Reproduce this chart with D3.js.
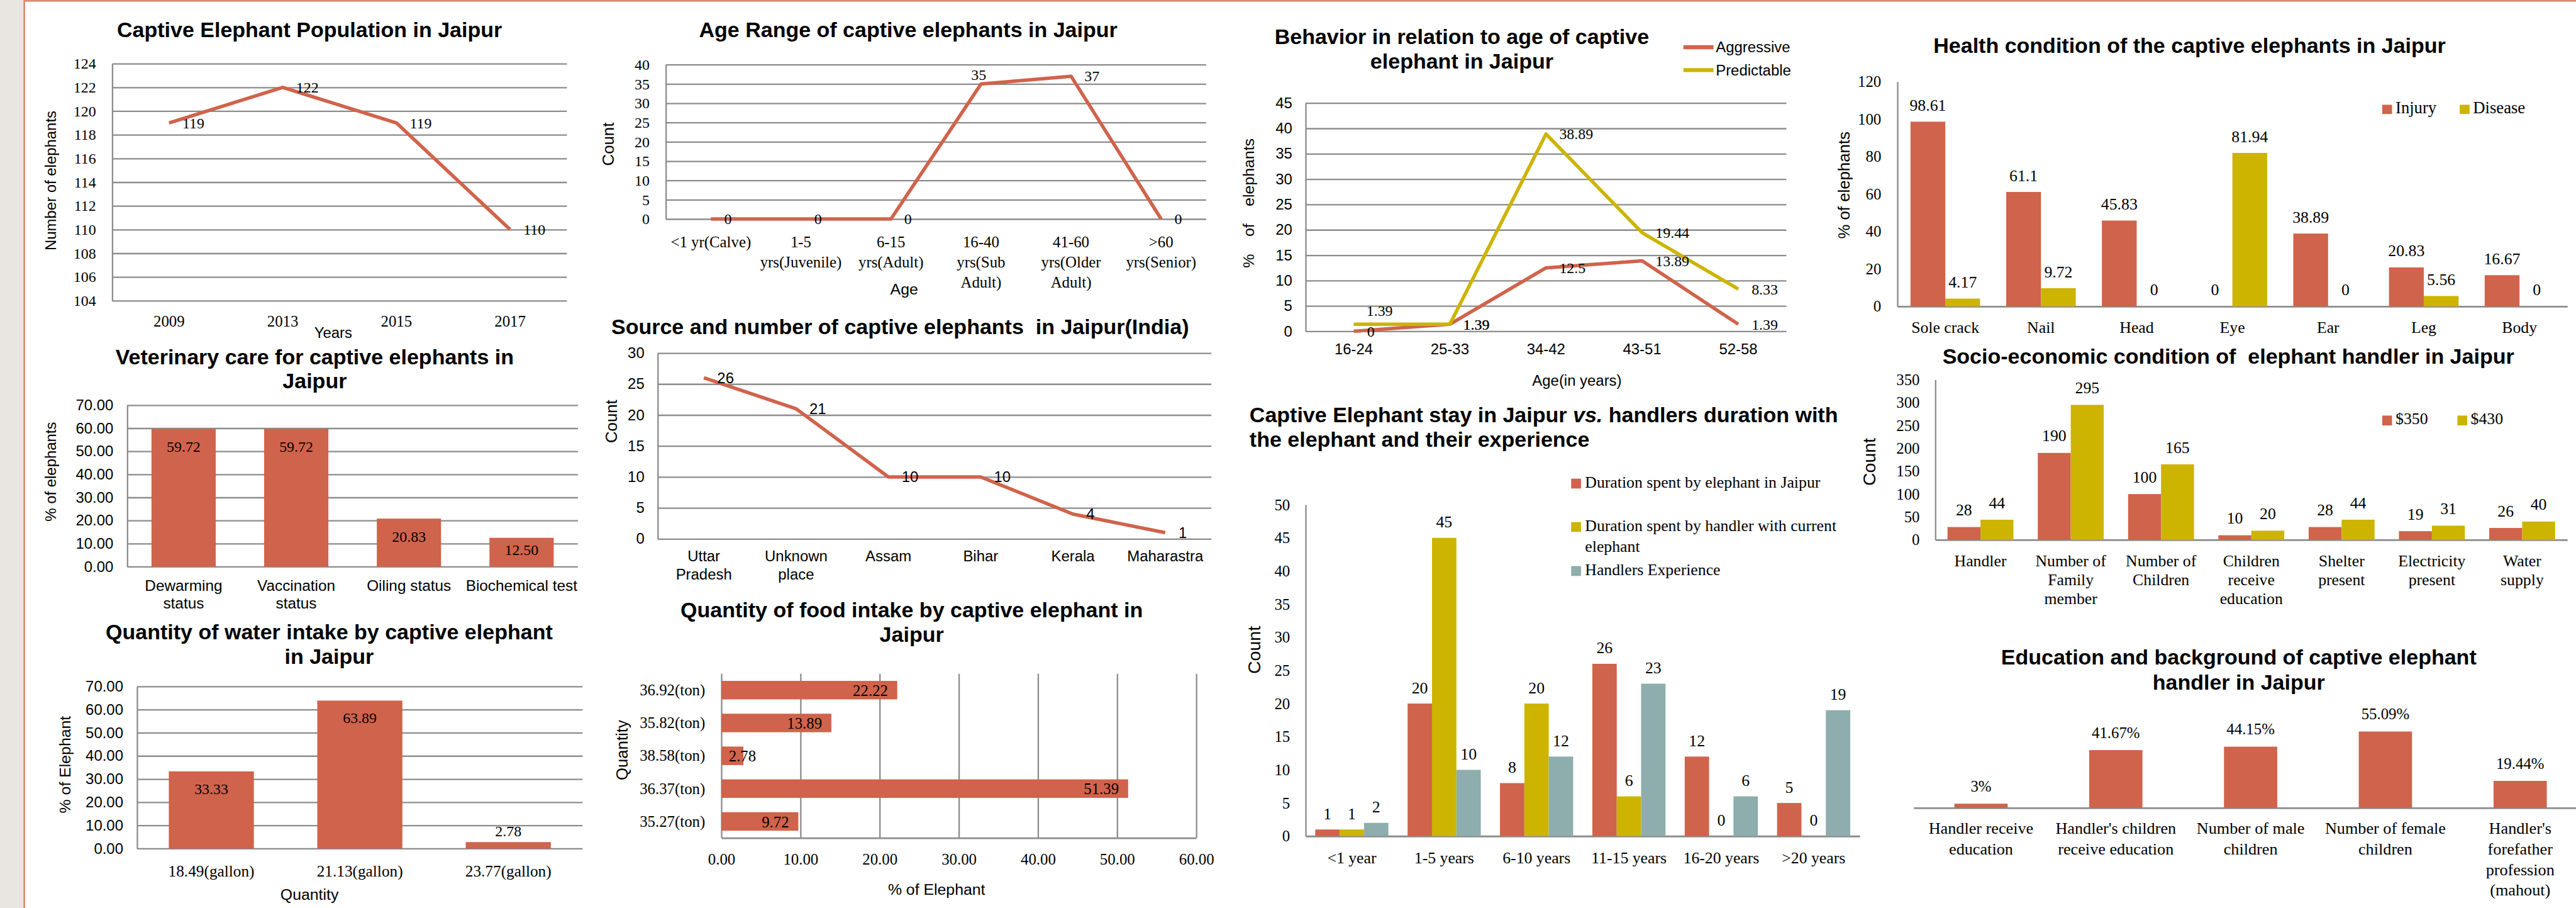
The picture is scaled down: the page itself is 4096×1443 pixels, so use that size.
<!DOCTYPE html>
<html><head><meta charset="utf-8">
<script src="https://cdn.jsdelivr.net/npm/d3@7"></script>
<style>html,body{margin:0;padding:0;background:#fff;overflow:hidden}</style>
</head><body>
<svg id="c" width="4096" height="1443"></svg>
<script>
// ---------------- DATA ----------------
const popYears = ["2009", "2013", "2015", "2017"];
const popValues = [119, 122, 119, 110];
const popTicks = [104, 106, 108, 110, 112, 114, 116, 118, 120, 122, 124];

const ageCats = ["<1 yr(Calve)", "1-5\nyrs(Juvenile)", "6-15\nyrs(Adult)", "16-40\nyrs(Sub\nAdult)", "41-60\nyrs(Older\nAdult)", ">60\nyrs(Senior)"];
const ageValues = [0, 0, 0, 35, 37, 0];
const ageTicks = [0, 5, 10, 15, 20, 25, 30, 35, 40];

const vetCats = ["Dewarming\nstatus", "Vaccination\nstatus", "Oiling status", "Biochemical test"];
const vetValues = [59.72, 59.72, 20.83, 12.50];
const vetTicks = [0, 10, 20, 30, 40, 50, 60, 70];

const srcCats = ["Uttar\nPradesh", "Unknown\nplace", "Assam", "Bihar", "Kerala", "Maharastra"];
const srcValues = [26, 21, 10, 10, 4, 1];
const srcTicks = [0, 5, 10, 15, 20, 25, 30];

const waterCats = ["18.49(gallon)", "21.13(gallon)", "23.77(gallon)"];
const waterValues = [33.33, 63.89, 2.78];
const waterTicks = [0, 10, 20, 30, 40, 50, 60, 70];

const foodCats = ["36.92(ton)", "35.82(ton)", "38.58(ton)", "36.37(ton)", "35.27(ton)"];
const foodValues = [22.22, 13.89, 2.78, 51.39, 9.72];
const foodTicks = [0, 10, 20, 30, 40, 50, 60];

const behCats = ["16-24", "25-33", "34-42", "43-51", "52-58"];
const behAggressive = [0, 1.39, 12.5, 13.89, 1.39];
const behPredictable = [1.39, 1.39, 38.89, 19.44, 8.33];
const behTicks = [0, 5, 10, 15, 20, 25, 30, 35, 40, 45];
const behSeries = ["Aggressive", "Predictable"];

const stayCats = ["<1 year", "1-5 years", "6-10 years", "11-15 years", "16-20 years", ">20 years"];
const stayElephant = [1, 20, 8, 26, 12, 5];
const stayHandler = [1, 45, 20, 6, 0, 0];
const stayExperience = [2, 10, 12, 23, 6, 19];
const stayTicks = [0, 5, 10, 15, 20, 25, 30, 35, 40, 45, 50];
const staySeries = ["Duration spent by elephant in Jaipur", "Duration spent by handler with current\nelephant", "Handlers Experience"];

const healthCats = ["Sole crack", "Nail", "Head", "Eye", "Ear", "Leg", "Body"];
const healthInjury = [98.61, 61.1, 45.83, 0, 38.89, 20.83, 16.67];
const healthDisease = [4.17, 9.72, 0, 81.94, 0, 5.56, 0];
const healthTicks = [0, 20, 40, 60, 80, 100, 120];
const healthSeries = ["Injury", "Disease"];

const socioCats = ["Handler", "Number of\nFamily\nmember", "Number of\nChildren", "Children\nreceive\neducation", "Shelter\npresent", "Electricity\npresent", "Water\nsupply"];
const socio350 = [28, 190, 100, 10, 28, 19, 26];
const socio430 = [44, 295, 165, 20, 44, 31, 40];
const socioTicks = [0, 50, 100, 150, 200, 250, 300, 350];
const socioSeries = ["$350", "$430"];

const eduCats = ["Handler receive\neducation", "Handler's children\nreceive education", "Number of male\nchildren", "Number of female\nchildren", "Handler's\nforefather\nprofession\n(mahout)"];
const eduValues = [3, 41.67, 44.15, 55.09, 19.44];

// ---------------- STYLE ----------------
const S = 4096 / 4453;
const SANS = "'Liberation Sans', Arial, Helvetica, sans-serif";
const SERIF = "'Liberation Serif', 'Times New Roman', Times, serif";
const RED = "#d0634b", YEL = "#ccb400", TEAL = "#8eadad", GRID = "#8c8c8c";

const svg = d3.select("#c");
const root = svg.append("g").attr("transform", `scale(${S})`);

// frame
root.append("rect").attr("x", 0).attr("y", 0).attr("width", 4453).attr("height", 1569).attr("fill", "#fff");
root.append("rect").attr("x", 0).attr("y", 0).attr("width", 42).attr("height", 1569).attr("fill", "#e9e5e1");
root.append("line").attr("x1", 42).attr("x2", 42).attr("y1", 0).attr("y2", 1569).attr("stroke", "#dc8b77").attr("stroke-width", 3);
root.append("line").attr("x1", 42).attr("x2", 4453).attr("y1", 1.5).attr("y2", 1.5).attr("stroke", "#dc8b77").attr("stroke-width", 3);

// ---------------- HELPERS ----------------
function txt(g, x, y, s, o = {}) {
  const t = g.append("text").attr("x", x).attr("y", y)
    .attr("font-family", o.f || SANS).attr("font-size", o.s || 26)
    .attr("font-weight", o.w || "normal").attr("text-anchor", o.a || "middle")
    .attr("fill", o.c || "#000");
  if (o.pre) t.style("white-space", "pre");
  t.text(s);
  return t;
}
function mtxt(g, x, y, str, lh, o) {
  str.split("\n").forEach((l, i) => txt(g, x, y + i * lh, l, o));
}
function vtxt(g, x, y, s, o = {}) {
  const t = g.append("text").attr("transform", `translate(${x},${y}) rotate(-90)`)
    .attr("font-family", o.f || SANS).attr("font-size", o.s || 27)
    .attr("text-anchor", "middle").attr("fill", "#000");
  if (o.pre) t.style("white-space", "pre");
  t.text(s);
}
function title(g, cx, y, lines, lh = 43) {
  lines.forEach((l, i) => txt(g, cx, y + i * lh, l, { s: 37, w: "bold", pre: true }));
}
function yAxis(g, y, x0, width, ticks, fmt, font, size, pad, grid) {
  const ax = d3.axisLeft(y).tickValues(ticks).tickFormat(fmt).tickSizeOuter(0)
    .tickSizeInner(grid ? -width : 0).tickPadding(pad);
  const a = g.append("g").attr("transform", `translate(${x0},0)`).call(ax);
  a.selectAll("line").attr("stroke", GRID).attr("stroke-width", 2.5);
  a.select(".domain").attr("stroke", GRID).attr("stroke-width", 2.5);
  a.selectAll("text").attr("font-family", font).attr("font-size", size).attr("fill", "#000");
  return a;
}
function xLine(g, x, y0) {
  const a = g.append("g").attr("transform", `translate(0,${y0})`)
    .call(d3.axisBottom(x).tickSize(0).tickFormat(""));
  a.select(".domain").attr("stroke", GRID).attr("stroke-width", 3);
}

// ---------------- PANEL 1: Population ----------------
{
  const g = root.append("g");
  title(g, 535, 64, ["Captive Elephant Population in Jaipur"]);
  const x = d3.scalePoint().domain(popYears).range([194, 980]).padding(0.5);
  const y = d3.scaleLinear().domain([104, 124]).range([519.5, 110]);
  yAxis(g, y, 194, 786, popTicks, d3.format("d"), SERIF, 26, 28, true);
  const data = popYears.map((c, i) => ({ c, v: popValues[i] }));
  g.append("path").datum(data).attr("fill", "none").attr("stroke", RED).attr("stroke-width", 6)
    .attr("stroke-linejoin", "round")
    .attr("d", d3.line().x(d => x(d.c)).y(d => y(d.v)));
  data.forEach(d => txt(g, x(d.c) + 23, y(d.v) + 9, d.v, { f: SERIF, s: 26, a: "start" }));
  popYears.forEach(c => txt(g, x(c), 564, c, { f: SERIF, s: 27 }));
  txt(g, 576, 584, "Years", { s: 26 });
  vtxt(g, 97, 312, "Number of elephants", { s: 26 });
}

// ---------------- PANEL 2: Age range ----------------
{
  const g = root.append("g");
  title(g, 1570, 64, ["Age Range of captive elephants in Jaipur"]);
  const x = d3.scalePoint().domain(ageCats).range([1151, 2085]).padding(0.5);
  const y = d3.scaleLinear().domain([0, 40]).range([378.4, 111.7]);
  yAxis(g, y, 1151, 934, ageTicks, d3.format("d"), SERIF, 26, 28, true);
  const data = ageCats.map((c, i) => ({ c, v: ageValues[i] }));
  g.append("path").datum(data).attr("fill", "none").attr("stroke", RED).attr("stroke-width", 6)
    .attr("stroke-linejoin", "round")
    .attr("d", d3.line().x(d => x(d.c)).y(d => y(d.v)));
  const place = ["r", "r", "r", "t", "r", "r"];
  data.forEach((d, i) => {
    if (place[i] === "t") txt(g, x(d.c) - 4, y(d.v) - 7, d.v, { f: SERIF, s: 26 });
    else txt(g, x(d.c) + 23, y(d.v) + 9, d.v, { f: SERIF, s: 26, a: "start" });
  });
  ageCats.forEach(c => mtxt(g, x(c), 427, c, 35, { f: SERIF, s: 27 }));
  txt(g, 1563, 509, "Age", { s: 27 });
  vtxt(g, 1061, 249, "Count", { s: 28 });
}

// ---------------- PANEL 3: Veterinary ----------------
{
  const g = root.append("g");
  title(g, 544, 630, ["Veterinary care for captive elephants in", "Jaipur"], 41);
  const x = d3.scaleBand().domain(vetCats).range([220, 999]).paddingInner(0.43).paddingOuter(0.215);
  const y = d3.scaleLinear().domain([0, 70]).range([979, 700]);
  yAxis(g, y, 220, 779, vetTicks, d3.format(".2f"), SANS, 26, 24, true);
  vetCats.forEach((c, i) => {
    const v = vetValues[i], top = y(v), h = y(0) - top;
    g.append("rect").attr("x", x(c)).attr("y", top).attr("width", x.bandwidth()).attr("height", h).attr("fill", RED);
    txt(g, x(c) + x.bandwidth() / 2, top + Math.min(40, h * 0.6), v.toFixed(2), { f: SERIF, s: 26 });
    mtxt(g, x(c) + x.bandwidth() / 2, 1021, c, 30.5, { s: 26.5 });
  });
  vtxt(g, 97, 815, "% of elephants", { s: 26 });
}

// ---------------- PANEL 4: Source ----------------
{
  const g = root.append("g");
  title(g, 1556, 577, ["Source and number of captive elephants  in Jaipur(India)"]);
  const x = d3.scalePoint().domain(srcCats).range([1137, 2094]).padding(0.5);
  const y = d3.scaleLinear().domain([0, 30]).range([931, 610]);
  yAxis(g, y, 1137, 957, srcTicks, d3.format("d"), SANS, 26, 23, true);
  const data = srcCats.map((c, i) => ({ c, v: srcValues[i] }));
  g.append("path").datum(data).attr("fill", "none").attr("stroke", RED).attr("stroke-width", 6)
    .attr("stroke-linejoin", "round")
    .attr("d", d3.line().x(d => x(d.c)).y(d => y(d.v)));
  data.forEach(d => txt(g, x(d.c) + 23, y(d.v) + 9, d.v, { s: 26, a: "start" }));
  srcCats.forEach(c => mtxt(g, x(c), 970, c, 31.7, { s: 26 }));
  vtxt(g, 1066, 728, "Count", { s: 28 });
}

// ---------------- PANEL 5: Water ----------------
{
  const g = root.append("g");
  title(g, 569, 1105, ["Quantity of water intake by captive elephant", "in Jaipur"], 42);
  const x = d3.scaleBand().domain(waterCats).range([237, 1007]).paddingInner(0.427).paddingOuter(0.2135);
  const y = d3.scaleLinear().domain([0, 70]).range([1466, 1186]);
  yAxis(g, y, 237, 770, waterTicks, d3.format(".2f"), SANS, 26, 24, true);
  waterCats.forEach((c, i) => {
    const v = waterValues[i], top = y(v), h = y(0) - top;
    g.append("rect").attr("x", x(c)).attr("y", top).attr("width", x.bandwidth()).attr("height", h).attr("fill", RED);
    txt(g, x(c) + x.bandwidth() / 2, h > 60 ? top + 39 : top - 10, v.toFixed(2), { f: SERIF, s: 26 });
    txt(g, x(c) + x.bandwidth() / 2, 1514, c, { f: SERIF, s: 27.5 });
  });
  txt(g, 535, 1555, "Quantity", { s: 27 });
  vtxt(g, 122, 1321, "% of Elephant", { s: 27 });
}

// ---------------- PANEL 6: Food ----------------
{
  const g = root.append("g");
  title(g, 1576, 1066, ["Quantity of food intake by captive elephant in", "Jaipur"], 43);
  const x = d3.scaleLinear().domain([0, 60]).range([1247, 2068]);
  const y = d3.scaleBand().domain(foodCats).range([1164, 1447.6]).paddingInner(0.436).paddingOuter(0.218);
  const ax = d3.axisBottom(x).tickValues(foodTicks).tickFormat(d3.format(".2f"))
    .tickSizeInner(-(1447.6 - 1164)).tickSizeOuter(0).tickPadding(27);
  const a = g.append("g").attr("transform", "translate(0,1447.6)").call(ax);
  a.selectAll("line").attr("stroke", GRID).attr("stroke-width", 2.5);
  a.select(".domain").attr("stroke", GRID).attr("stroke-width", 3);
  a.selectAll("text").attr("font-family", SERIF).attr("font-size", 27).attr("fill", "#000");
  foodCats.forEach((c, i) => {
    const v = foodValues[i], cy = y(c) + y.bandwidth() / 2;
    g.append("rect").attr("x", x(0)).attr("y", y(c)).attr("width", x(v) - x(0)).attr("height", y.bandwidth()).attr("fill", RED);
    const lx = Math.max(x(v) - 16, x(0) + 60);
    txt(g, lx, cy + 10, v.toFixed(2), { f: SERIF, s: 27, a: "end" });
    txt(g, 1219, cy + 9, c, { f: SERIF, s: 27, a: "end" });
  });
  txt(g, 1619, 1546, "% of Elephant", { s: 27 });
  vtxt(g, 1085, 1296, "Quantity", { s: 28 });
}

// ---------------- PANEL 7: Behavior ----------------
{
  const g = root.append("g");
  title(g, 2527, 76, ["Behavior in relation to age of captive", "elephant in Jaipur"], 42.5);
  const x = d3.scalePoint().domain(behCats).range([2257, 3088]).padding(0.5);
  const y = d3.scaleLinear().domain([0, 45]).range([572.4, 178]);
  yAxis(g, y, 2257, 831, behTicks, d3.format("d"), SANS, 26, 23, true);
  const line = d3.line().x(d => x(d.c)).y(d => y(d.v));
  const agg = behCats.map((c, i) => ({ c, v: behAggressive[i] }));
  const pred = behCats.map((c, i) => ({ c, v: behPredictable[i] }));
  g.append("path").datum(agg).attr("fill", "none").attr("stroke", RED).attr("stroke-width", 6).attr("stroke-linejoin", "round").attr("d", line);
  g.append("path").datum(pred).attr("fill", "none").attr("stroke", YEL).attr("stroke-width", 6).attr("stroke-linejoin", "round").attr("d", line);
  agg.forEach(d => txt(g, x(d.c) + 23, y(d.v) + 9, d.v, { f: SERIF, s: 26, a: "start" }));
  pred.forEach((d, i) => {
    if (i === 0) txt(g, x(d.c) + 22, y(d.v) - 15, d.v, { f: SERIF, s: 26, a: "start" });
    else txt(g, x(d.c) + 23, y(d.v) + 9, d.v, { f: SERIF, s: 26, a: "start" });
  });
  behCats.forEach(c => txt(g, x(c), 612, c, { s: 26 }));
  txt(g, 2726, 666, "Age(in years)", { s: 26 });
  vtxt(g, 2168, 351, "%    of    elephants", { s: 27, pre: true });
  const lc = [RED, YEL];
  behSeries.forEach((s, i) => {
    const ly = 81.6 + i * 39.5;
    g.append("line").attr("x1", 2910).attr("x2", 2962).attr("y1", ly).attr("y2", ly).attr("stroke", lc[i]).attr("stroke-width", 7);
    txt(g, 2966, ly + 9, s, { s: 26, a: "start" });
  });
}

// ---------------- PANEL 8: Stay ----------------
{
  const g = root.append("g");
  const t = g.append("text").attr("x", 2160).attr("y", 729).attr("font-family", SANS).attr("font-size", 37).attr("font-weight", "bold");
  t.append("tspan").text("Captive Elephant stay in Jaipur ");
  t.append("tspan").attr("font-style", "italic").text("vs.");
  t.append("tspan").text(" handlers duration with");
  txt(g, 2160, 772, "the elephant and their experience", { s: 37, w: "bold", a: "start" });
  const x0 = d3.scaleBand().domain(stayCats).range([2257, 3215]).paddingInner(0.208).paddingOuter(0.104);
  const x1 = d3.scaleBand().domain([0, 1, 2]).range([0, x0.bandwidth()]);
  const y = d3.scaleLinear().domain([0, 50]).range([1444.6, 872]);
  yAxis(g, y, 2257, 0, stayTicks, d3.format("d"), SERIF, 27, 27, false);
  xLine(g, x0, 1444.6);
  const series = [stayElephant, stayHandler, stayExperience], cols = [RED, YEL, TEAL];
  stayCats.forEach((c, i) => {
    series.forEach((arr, k) => {
      const v = arr[i], bx = x0(c) + x1(k);
      g.append("rect").attr("x", bx).attr("y", y(v)).attr("width", x1.bandwidth()).attr("height", y(0) - y(v)).attr("fill", cols[k]);
      txt(g, bx + x1.bandwidth() / 2, y(v) - 18, v, { f: SERIF, s: 28 });
    });
    txt(g, x0(c) + x0.bandwidth() / 2, 1491.5, c, { f: SERIF, s: 28 });
  });
  vtxt(g, 2179, 1123, "Count", { s: 31 });
  const ly = [827, 902, 978];
  staySeries.forEach((s, k) => {
    g.append("rect").attr("x", 2716).attr("y", ly[k]).attr("width", 17).attr("height", 17).attr("fill", cols[k]);
    mtxt(g, 2740, ly[k] + 16, s, 35.5, { f: SERIF, s: 28, a: "start" });
  });
}

// ---------------- PANEL 9: Health ----------------
{
  const g = root.append("g");
  title(g, 3785, 91, ["Health condition of the captive elephants in Jaipur"]);
  const x0 = d3.scaleBand().domain(healthCats).range([3280, 4438]).paddingInner(0.273).paddingOuter(0.1365);
  const x1 = d3.scaleBand().domain([0, 1]).range([0, x0.bandwidth()]);
  const y = d3.scaleLinear().domain([0, 120]).range([529.4, 141]);
  yAxis(g, y, 3280, 0, healthTicks, d3.format("d"), SERIF, 27, 28, false);
  xLine(g, x0, 529.4);
  const series = [healthInjury, healthDisease], cols = [RED, YEL];
  healthCats.forEach((c, i) => {
    series.forEach((arr, k) => {
      const v = arr[i], bx = x0(c) + x1(k);
      g.append("rect").attr("x", bx).attr("y", y(v)).attr("width", x1.bandwidth()).attr("height", y(0) - y(v)).attr("fill", cols[k]);
      txt(g, bx + x1.bandwidth() / 2, y(v) - 19, v, { f: SERIF, s: 28 });
    });
    txt(g, x0(c) + x0.bandwidth() / 2, 575, c, { f: SERIF, s: 28 });
  });
  vtxt(g, 3197, 320, "% of elephants", { s: 28 });
  const lx = [4118, 4252];
  healthSeries.forEach((s, k) => {
    g.append("rect").attr("x", lx[k]).attr("y", 181).attr("width", 17).attr("height", 16).attr("fill", cols[k]);
    txt(g, lx[k] + 23, 196, s, { f: SERIF, s: 29, a: "start" });
  });
}

// ---------------- PANEL 10: Socio ----------------
{
  const g = root.append("g");
  title(g, 3852, 628, ["Socio-economic condition of  elephant handler in Jaipur"]);
  const x0 = d3.scaleBand().domain(socioCats).range([3345.5, 4438]).paddingInner(0.27).paddingOuter(0.135);
  const x1 = d3.scaleBand().domain([0, 1]).range([0, x0.bandwidth()]);
  const y = d3.scaleLinear().domain([0, 350]).range([932.7, 656]);
  yAxis(g, y, 3345.5, 0, socioTicks, d3.format("d"), SERIF, 27, 27, false);
  xLine(g, x0, 932.7);
  const series = [socio350, socio430], cols = [RED, YEL];
  socioCats.forEach((c, i) => {
    series.forEach((arr, k) => {
      const v = arr[i], bx = x0(c) + x1(k);
      g.append("rect").attr("x", bx).attr("y", y(v)).attr("width", x1.bandwidth()).attr("height", y(0) - y(v)).attr("fill", cols[k]);
      txt(g, bx + x1.bandwidth() / 2, y(v) - 20, v, { f: SERIF, s: 28 });
    });
    mtxt(g, x0(c) + x0.bandwidth() / 2, 978, c, 33, { f: SERIF, s: 28 });
  });
  vtxt(g, 3242, 798, "Count", { s: 31 });
  const lx = [4118, 4248];
  socioSeries.forEach((s, k) => {
    g.append("rect").attr("x", lx[k]).attr("y", 718).attr("width", 17).attr("height", 17).attr("fill", cols[k]);
    txt(g, lx[k] + 23, 733, s, { f: SERIF, s: 28, a: "start" });
  });
}

// ---------------- PANEL 11: Education ----------------
{
  const g = root.append("g");
  title(g, 3870, 1148, ["Education and background of captive elephant", "handler in Jaipur"], 44);
  const x = d3.scaleBand().domain(eduCats).range([3308, 4473]).paddingInner(0.605).paddingOuter(0.3025);
  const y = d3.scaleLinear().domain([0, 60]).range([1395.7, 1252.1]);
  xLine(g, x, 1395.7);
  eduCats.forEach((c, i) => {
    const v = eduValues[i];
    g.append("rect").attr("x", x(c)).attr("y", y(v)).attr("width", x.bandwidth()).attr("height", y(0) - y(v)).attr("fill", RED);
    txt(g, x(c) + x.bandwidth() / 2, y(v) - 21, v + "%", { f: SERIF, s: 27 });
    mtxt(g, x(c) + x.bandwidth() / 2, 1441, c, 35.5, { f: SERIF, s: 28.5 });
  });
}
</script>
</body></html>
